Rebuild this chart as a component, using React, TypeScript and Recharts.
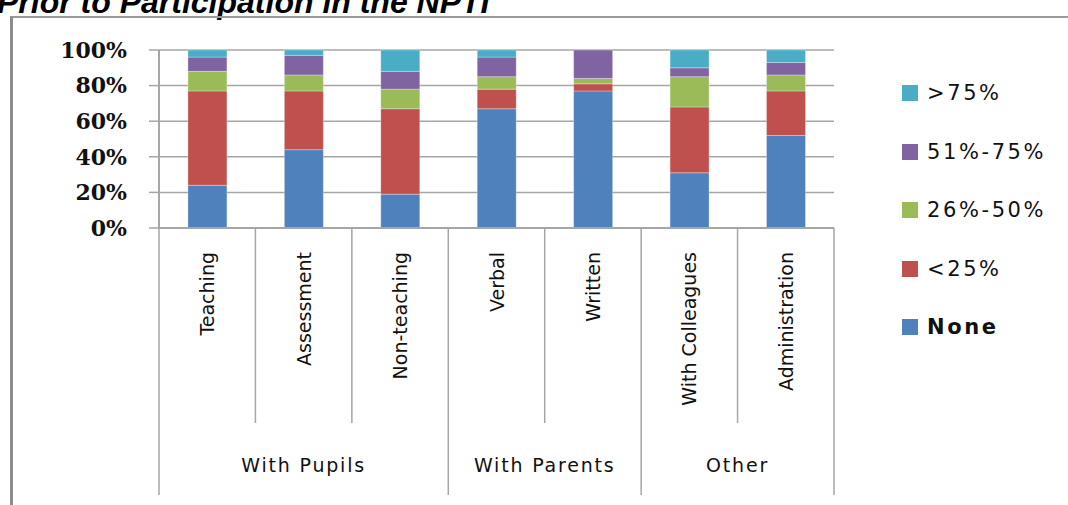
import React from "react";
import { BarChart, Bar, XAxis, YAxis, CartesianGrid } from "recharts";

const categories = [
  "Teaching",
  "Assessment",
  "Non-teaching",
  "Verbal",
  "Written",
  "With Colleagues",
  "Administration",
];

// groups of the second axis row, in order, with how many categories they span
const groupNames = ["With Pupils", "With Parents", "Other"];
const groupSizes = [3, 2, 2];

const none = [24, 44, 19, 67, 77, 31, 52];
const lt25 = [53, 33, 48, 11, 4, 37, 25];
const p26to50 = [11, 9, 11, 7, 3, 17, 9];
const p51to75 = [8, 11, 10, 11, 16, 5, 7];
const gt75 = [4, 3, 12, 4, 0, 10, 7];

const yTicks = [0, 20, 40, 60, 80, 100];

const data = categories.map((name, i) => ({
  name,
  none: none[i],
  lt25: lt25[i],
  p26to50: p26to50[i],
  p51to75: p51to75[i],
  gt75: gt75[i],
}));

const series = [
  { key: "none", label: "None", color: "#4f81bd" },
  { key: "lt25", label: "<25%", color: "#c0504d" },
  { key: "p26to50", label: "26%-50%", color: "#9bbb59" },
  { key: "p51to75", label: "51%-75%", color: "#8064a2" },
  { key: "gt75", label: ">75%", color: "#4bacc6" },
];

const LINE = "#a6a6a6";
const LABEL_FONT = "'DejaVu Sans', sans-serif";

function groupOf(index: number) {
  let start = 0;
  for (let g = 0; g < groupSizes.length; g++) {
    if (index < start + groupSizes[g]) return { g, start, size: groupSizes[g] };
    start += groupSizes[g];
  }
  return { g: 0, start: 0, size: 1 };
}

function CategoryTick(props: any) {
  const { x, y, payload, index } = props;
  const half = payload.offset || 0;
  const { g, start, size } = groupOf(index);
  const isGroupEnd = index === start + size - 1;
  const groupCenter = x + half * 2 * (start + (size - 1) / 2 - index);
  return (
    <g>
      <text
        transform={`translate(${x + 7},${y + 24}) rotate(-90)`}
        textAnchor="end"
        fontFamily={LABEL_FONT}
        fontSize={19}
        fill="#111"
      >
        {payload.value}
      </text>
      {index === 0 && (
        <line x1={x - half} x2={x - half} y1={y} y2={y + 267} stroke={LINE} strokeWidth={1.5} />
      )}
      <line
        x1={x + half}
        x2={x + half}
        y1={y}
        y2={y + (isGroupEnd ? 267 : 195)}
        stroke={LINE}
        strokeWidth={1.5}
      />
      {index === start && (
        <text
          x={groupCenter}
          y={y + 244}
          textAnchor="middle"
          fontFamily={LABEL_FONT}
          fontSize={19}
          letterSpacing={1.8}
          fill="#111"
        >
          {groupNames[g]}
        </text>
      )}
    </g>
  );
}

function LegendList() {
  const items = [...series].reverse();
  return (
    <div style={{ position: "absolute", left: 902, top: 80 }}>
      {items.map((s) => (
        <div
          key={s.key}
          style={{
            height: 58.5,
            display: "flex",
            alignItems: "flex-start",
            fontFamily: LABEL_FONT,
            fontSize: 21,
            letterSpacing: 2.6,
            color: "#111",
            fontWeight: s.key === "none" ? "bold" : "normal",
          }}
        >
          <span
            style={{
              display: "inline-block",
              width: 16,
              height: 16,
              background: s.color,
              marginTop: 5,
              marginRight: 9,
            }}
          />
          <span style={{ lineHeight: "26px" }}>{s.label}</span>
        </div>
      ))}
    </div>
  );
}

export default function App() {
  return (
    <div
      style={{
        position: "absolute",
        left: 0,
        top: 0,
        width: 1068,
        height: 505,
        overflow: "hidden",
        background: "#fff",
      }}
    >
      <svg width={1068} height={30} style={{ position: "absolute", left: 0, top: 0 }}>
        <text
          x={-3}
          y={13}
          fontFamily="'Liberation Sans', Arial, sans-serif"
          fontWeight="bold"
          fontStyle="italic"
          fontSize={32}
          fill="#000"
        >
          Prior to Participation in the NPTI
        </text>
      </svg>
      <div
        style={{
          position: "absolute",
          left: 10,
          top: 16,
          width: 1100,
          height: 600,
          borderLeft: "3px solid #8c8c8c",
          borderTop: "2px solid #9a9a9a",
        }}
      />
      <div style={{ position: "absolute", left: 0, top: 0 }}>
        <BarChart
          width={1068}
          height={505}
          data={data}
          margin={{ top: 50, right: 234, bottom: 0, left: 0 }}
          barCategoryGap="30%"
        >
          <CartesianGrid vertical={false} stroke={LINE} strokeWidth={1.5} />
          <YAxis
            width={159}
            domain={[0, 100]}
            ticks={yTicks}
            tickFormatter={(v) => `${v}%`}
            axisLine={{ stroke: LINE, strokeWidth: 2 }}
            tickLine={{ stroke: LINE, strokeWidth: 1.5 }}
            tickSize={10}
            tickMargin={22}
            tick={{
              fontFamily: "'DejaVu Serif', serif",
              fontWeight: "bold",
              fontSize: 22,
              fill: "#111",
            }}
            interval={0}
          />
          <XAxis
            dataKey="name"
            height={277}
            interval={0}
            tickSize={0}
            tickMargin={0}
            axisLine={{ stroke: LINE, strokeWidth: 2 }}
            tickLine={false}
            tick={<CategoryTick />}
          />
          {series.map((s) => (
            <Bar
              key={s.key}
              dataKey={s.key}
              name={s.label}
              stackId="a"
              fill={s.color}
              stroke="#ffffff"
              strokeOpacity={0.3}
              strokeWidth={1}
              isAnimationActive={false}
            />
          ))}
        </BarChart>
      </div>
      <LegendList />
    </div>
  );
}
